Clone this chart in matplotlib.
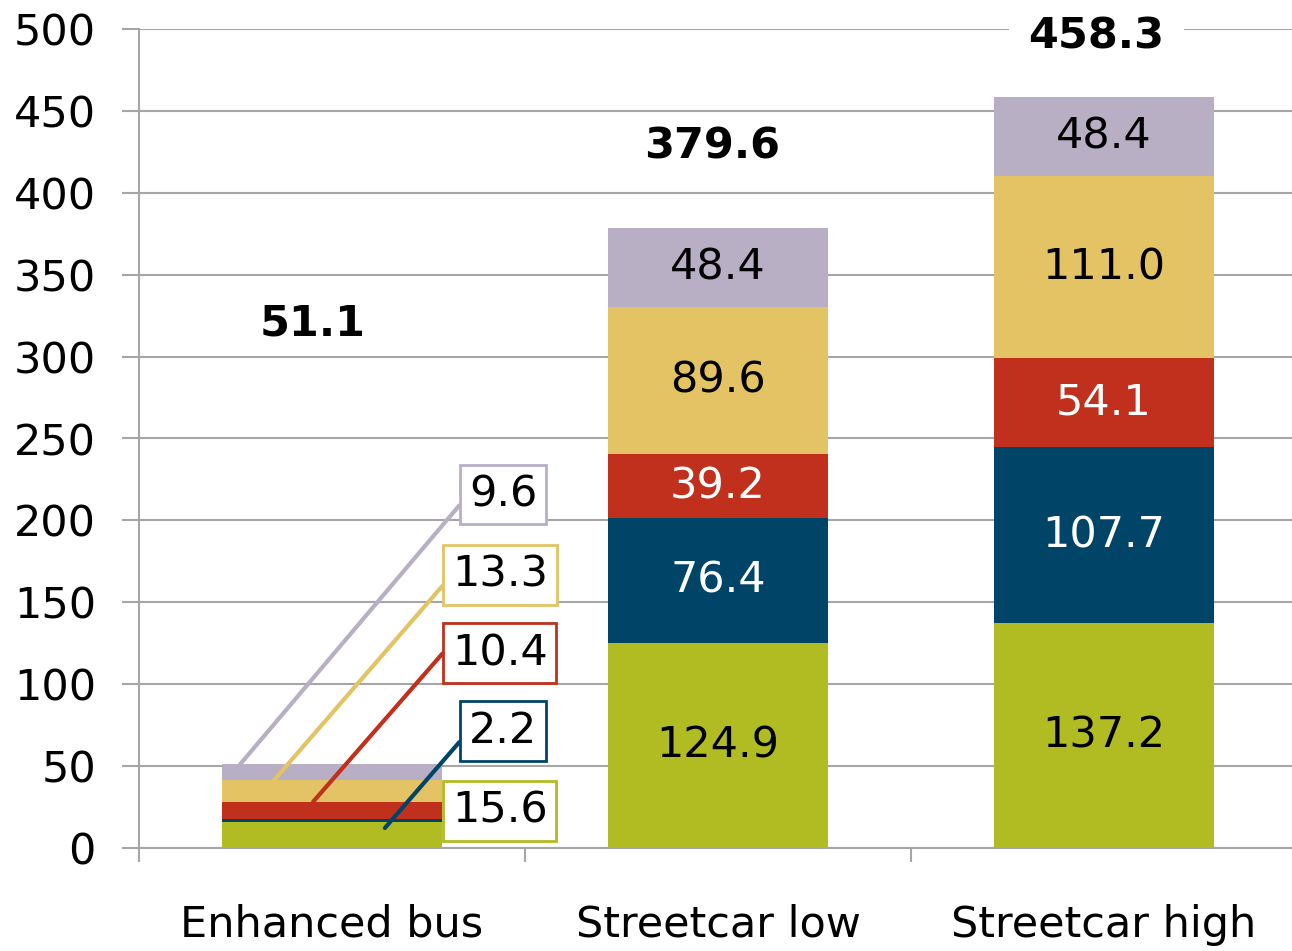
import matplotlib
matplotlib.use("Agg")
import matplotlib.pyplot as plt
import numpy as np

categories = ["Enhanced bus", "Streetcar low", "Streetcar high"]
series_green = [15.6, 124.9, 137.2]
series_blue = [2.2, 76.4, 107.7]
series_red = [10.4, 39.2, 54.1]
series_yellow = [13.3, 89.6, 111.0]
series_lavender = [9.6, 48.4, 48.4]
totals = ["51.1", "379.6", "458.3"]
yticks = [0, 50, 100, 150, 200, 250, 300, 350, 400, 450, 500]

colors = ["#B0BC22", "#004468", "#C0301D", "#E4C364", "#B8AFC5"]
text_colors = ["black", "white", "white", "black", "black"]
series = [series_green, series_blue, series_red, series_yellow, series_lavender]

FS = 31
plt.rcParams['font.family'] = ['DejaVu Sans']
fig = plt.figure(figsize=(12.92, 9.51), dpi=100)
ax = fig.add_axes([139/1292, (951-848)/951, (1297-139)/1292, (848-29)/951])

x = np.arange(len(categories))
width = 0.57
bottoms = np.zeros(len(categories))
for vals, c in zip(series, colors):
    ax.bar(x, vals, width, bottom=bottoms, color=c, zorder=3)
    bottoms = bottoms + np.array(vals)

# segment labels for streetcar bars
bottoms = np.zeros(len(categories))
for vals, tc in zip(series, text_colors):
    for i in (1, 2):
        ax.text(x[i], bottoms[i] + vals[i] / 2, f"{vals[i]:.1f}", ha="center", va="center",
                fontsize=FS, color=tc, zorder=4)
    bottoms = bottoms + np.array(vals)

# callout labels for Enhanced bus
cum = np.cumsum([s[0] for s in series])
callouts = [
    (4, -0.238, cum[4], 0.443, 216, (0, 0.5)),
    (3, -0.150, cum[3], 0.435, 166.7, (0, 0.5)),
    (2, -0.049, cum[2], 0.435, 119, (0, 0.75)),
    (1, 0.137, 12.2, 0.443, 71.4, (0, 0.5)),
]
for si, ax_x, ax_y, tx, ty, rp in callouts:
    ax.annotate(f"{series[si][0]:.1f}", xy=(ax_x, ax_y), xytext=(tx, ty),
                ha="center", va="center", fontsize=FS, color="black", zorder=5,
                bbox=dict(boxstyle="square,pad=0.2", fc="white", ec=colors[si], lw=2),
                arrowprops=dict(arrowstyle="-", color=colors[si], lw=3,
                                shrinkA=0, shrinkB=0, relpos=rp))
ax.text(0.435, 22.6, f"{series[0][0]:.1f}", ha="center", va="center", fontsize=FS,
        color="black", zorder=5,
        bbox=dict(boxstyle="square,pad=0.2", fc="white", ec=colors[0], lw=2))

# totals
total_pos = [(-0.05, 320.5, 0.15), (-0.015, 428, 0.15), (-0.02, 495.7, 0.45)]
for i, (t, (dx, ty, pad)) in enumerate(zip(totals, total_pos)):
    ax.text(x[i] + dx, ty, t, ha="center", va="center",
            fontsize=FS, fontweight="bold", zorder=5,
            bbox=dict(boxstyle=f"square,pad={pad}", fc="white", ec="none"))

ax.set_xlim(-0.5, 2.5)
ax.set_ylim(0, 500)
ax.set_yticks(yticks)
ax.set_yticklabels([str(v) for v in yticks])
ax.grid(axis="y", color="#A6A6A6", lw=1.5, zorder=0)
ax.set_axisbelow(True)
for s in ["top", "right"]:
    ax.spines[s].set_visible(False)
for s in ["left", "bottom"]:
    ax.spines[s].set_color("#A6A6A6")
    ax.spines[s].set_linewidth(1.5)
ax.tick_params(axis="y", length=12, width=1.5, color="#A6A6A6", pad=19, labelsize=FS)
ax.set_xticks(x)
ax.set_xticklabels(categories)
ax.tick_params(axis="x", which="major", length=0, pad=40, labelsize=FS)
ax.set_xticks([-0.5, 0.5, 1.5, 2.5], minor=True)
ax.tick_params(axis="x", which="minor", length=10, width=1.5, color="#A6A6A6")

fig.savefig("out.png", dpi=100)
